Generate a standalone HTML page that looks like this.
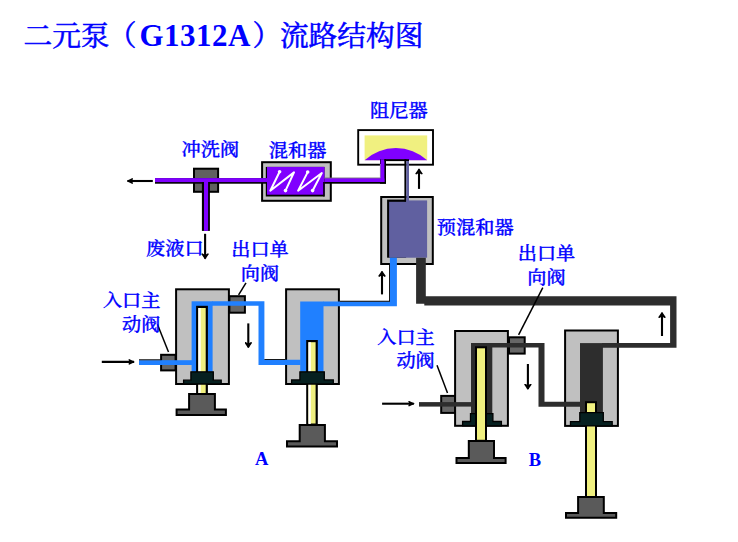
<!DOCTYPE html>
<html lang="zh">
<head>
<meta charset="utf-8">
<title>二元泵（G1312A）流路结构图</title>
<style>
html,body{margin:0;padding:0;background:#fff;}
body{width:738px;height:542px;overflow:hidden;position:relative;}
svg{position:absolute;left:0;top:0;display:block;}
.t{font-family:"Liberation Serif","Noto Serif CJK SC",serif;fill:#0000ff;}
.title{font-size:28.7px;font-weight:400;}
.title .lat{font-weight:700;font-size:31px;letter-spacing:0.45px;}
.lb{font-size:19.2px;font-weight:500;stroke:#0000ff;stroke-width:0.35px;}
.title .cj{stroke:#0000ff;stroke-width:0.55px;}
.ab{font-size:18.5px;font-weight:700;}
</style>
</head>
<body>
<svg width="738" height="542" viewBox="0 0 738 542">
<defs>
<marker id="ah" viewBox="0 0 6.4 7.6" refX="5.4" refY="3.8" markerWidth="6.4" markerHeight="7.6" markerUnits="userSpaceOnUse" orient="auto">
<path d="M6.4,3.8 L0.9,0 L0,0.9 L1.7,3.8 L0,6.7 L0.9,7.6 Z" fill="#000"/>
</marker>
<marker id="ahh" viewBox="0 0 6.6 5.8" refX="5.6" refY="2.9" markerWidth="6.6" markerHeight="5.8" markerUnits="userSpaceOnUse" orient="auto">
<path d="M6.6,2.9 L0.7,0 L0,0.8 L1.3,2.9 L0,5 L0.7,5.8 Z" fill="#000"/>
</marker>
</defs>

<!-- ================= TOP: purge valve, mixer, damper ================= -->
<g id="top">
<!-- purge valve -->
<rect x="194" y="168.7" width="24.1" height="23.1" fill="#606060" stroke="#000" stroke-width="2"/>
<!-- mixer -->
<rect x="262.1" y="162.2" width="68.7" height="38.6" fill="#c0c0c0" stroke="#000" stroke-width="2"/>
<rect x="265.8" y="166.9" width="58.7" height="29.6" fill="#000"/>
<rect x="267" y="166.9" width="57.5" height="27.8" fill="#8000ff"/>
<rect x="323.2" y="182" width="1.5" height="14.5" fill="#000"/>
<g fill="none" stroke="#fff" stroke-width="2" stroke-linecap="round" stroke-linejoin="round">
<path d="M279.5,172 L270.3,190.7 L294,172.4 L285.5,190.7"/>
<path d="M307.6,172.4 L298.1,190.7 L321.8,173 L312.6,190.7"/>
</g>
<g fill="#fff">
<circle cx="279.6" cy="171.8" r="1.8"/><circle cx="285.5" cy="190.6" r="1.8"/>
<circle cx="307.7" cy="172" r="1.8"/><circle cx="312.6" cy="190.6" r="1.8"/>
</g>
<!-- main purple line w/ black shadow -->
<rect x="155" y="178.1" width="112" height="5.6" fill="#000"/>
<rect x="155" y="178.1" width="112" height="4" fill="#8000ff"/>
<rect x="201.9" y="182.1" width="8" height="48.8" fill="#000"/>
<rect x="204" y="180" width="4.1" height="50.9" fill="#8000ff"/>
<!-- damper -->
<rect x="358.2" y="130.1" width="74.8" height="34.6" fill="#fff" stroke="#000" stroke-width="1.9"/>
<rect x="364.6" y="135.4" width="62.6" height="24.8" fill="#f0f080"/>
<path d="M364.6,160.2 A46.25,46.25 0 0 1 427.2,160.2 Z" fill="#8000ff"/>
<!-- line mixer -> damper -->
<rect x="324.5" y="177.8" width="61.5" height="5.9" fill="#000"/>
<rect x="380" y="159.3" width="6" height="24.4" fill="#000"/>
<rect x="324.5" y="177.7" width="56" height="1" fill="#a8a0b0"/>
<rect x="379.9" y="164" width="1" height="14.5" fill="#a8a0b0"/>
<rect x="324.5" y="178.4" width="59.9" height="3.6" fill="#8000ff"/>
<rect x="380.6" y="159.3" width="3.8" height="22.7" fill="#8000ff"/>
<rect x="384.4" y="159.2" width="24.6" height="1.9" fill="#000"/>
<!-- damper -> premixer -->
<rect x="404.4" y="159.2" width="2" height="42" fill="#000"/>
<rect x="406.3" y="161" width="2.7" height="40" fill="#6060a0"/>
</g>

<!-- ================= premixer ================= -->
<g id="premix">
<rect x="381.2" y="197" width="51.6" height="67" fill="#c0c0c0" stroke="#000" stroke-width="2"/>
<rect x="387.1" y="199.6" width="19" height="58.1" fill="#000"/>
<rect x="389.1" y="201.8" width="38" height="55.9" fill="#6060a0"/>
<rect x="406.3" y="200.4" width="20.8" height="2" fill="#6060a0"/>
<rect x="404.4" y="196" width="2" height="5.4" fill="#000"/>
<rect x="406.3" y="196" width="2.7" height="6" fill="#6060a0"/>
</g>

<!-- ================= tubes ================= -->
<g id="tubes">
<!-- pump housings -->
<rect x="176.1" y="289.3" width="52.8" height="94.7" fill="#c0c0c0" stroke="#000" stroke-width="2"/>
<rect x="286.1" y="289.3" width="52.8" height="94.7" fill="#c0c0c0" stroke="#000" stroke-width="2"/>
<rect x="455.1" y="331" width="52.8" height="94.8" fill="#c0c0c0" stroke="#000" stroke-width="2"/>
<rect x="565.1" y="330.5" width="52.8" height="95.4" fill="#c0c0c0" stroke="#000" stroke-width="2"/>
<!-- valves (behind tubes) -->
<rect x="161.1" y="354.8" width="14.5" height="15.6" fill="#666" stroke="#000" stroke-width="2"/>
<rect x="229.4" y="296.2" width="15.5" height="16.5" fill="#666" stroke="#000" stroke-width="2"/>
<rect x="441.2" y="395.9" width="13.8" height="17" fill="#666" stroke="#000" stroke-width="2"/>
<rect x="509" y="337.3" width="15.7" height="16.3" fill="#666" stroke="#000" stroke-width="2"/>
</g>

<!-- ================= Pump A1 ================= -->
<g id="A1">
<rect x="191.6" y="301.3" width="21" height="70.5" fill="#2080ff"/>
<rect x="139" y="360.2" width="54" height="4.8" fill="#2080ff"/>
<rect x="139" y="359.3" width="21.3" height="1" fill="#000"/>
<path d="M212,301.3 H264.4 V359.8 H300.5 V364.9 H258.5 V305.8 H212 Z" fill="#2080ff"/>
<rect x="264.4" y="359" width="20.8" height="0.9" fill="#000"/>
<rect x="197.2" y="306.9" width="9.6" height="87.5" fill="#f0f080" stroke="#000" stroke-width="2.2"/>
<rect x="198.3" y="308" width="2.4" height="86" fill="#fff"/>
<path d="M190.9,371.8 H213.3 V380.2 H221.2 V384 H183.6 V380.2 H190.9 Z" fill="#062020" stroke="#000" stroke-width="1.3"/>
<path d="M189.1,394.1 H214.9 V409.6 H225.9 V415 H176.6 V409.6 H189.1 Z" fill="#5a5a5a" stroke="#000" stroke-width="2"/>
</g>

<!-- ================= Pump A2 ================= -->
<g id="A2">
<rect x="300.2" y="301.5" width="23.3" height="70.3" fill="#2080ff"/>
<path d="M323,301.6 H389.9 V257.7 H396.9 V306.3 H323 Z" fill="#2080ff"/>
<path d="M339.9,300.8 H389.1 V264.5 H390 V301.7 H339.9 Z" fill="#000"/>
<rect x="307.3" y="341.1" width="9.4" height="83.5" fill="#f0f080" stroke="#000" stroke-width="2.2"/>
<rect x="308.4" y="342.2" width="2.4" height="82" fill="#fff"/>
<path d="M299.9,371.8 H324.3 V379.9 H333.3 V384 H291.6 V379.9 H299.9 Z" fill="#062020" stroke="#000" stroke-width="1.3"/>
<path d="M299.7,425 H324.9 V441.3 H337 V446.4 H287 V441.3 H299.7 Z" fill="#5a5a5a" stroke="#000" stroke-width="2"/>
</g>

<!-- ================= Pump B1 ================= -->
<g id="B1">
<rect x="471" y="343" width="21.3" height="70.5" fill="#2d2d2d"/>
<rect x="419" y="402.1" width="53" height="4.5" fill="#2d2d2d"/>
<path d="M492,342.9 H544.5 V401.8 H581 V406.7 H538.5 V347.5 H492 Z" fill="#2d2d2d"/>
<path d="M470.5,413.6 H492.9 V421.5 H501.4 V425.8 H462.6 V421.5 H470.5 Z" fill="#062020" stroke="#000" stroke-width="1.3"/>
<rect x="476" y="347.3" width="10" height="93.5" fill="#f0f080" stroke="#000" stroke-width="2"/>
<path d="M468.8,441 H494 V457.9 H505.6 V463 H456.5 V457.9 H468.8 Z" fill="#5a5a5a" stroke="#000" stroke-width="2"/>
</g>

<!-- ================= Pump B2 ================= -->
<g id="B2">
<rect x="580" y="343.1" width="22.9" height="70" fill="#2d2d2d"/>
<path d="M416.1,257.7 H425.8 V296.2 H676.5 V347.7 H602 V343 H670.1 V305.6 H424.3 V303.8 H416.1 Z" fill="#2d2d2d"/>
<rect x="586" y="402.2" width="10" height="95" fill="#f0f080" stroke="#000" stroke-width="2"/>
<path d="M579.8,412.6 H603.3 V421.6 H612.2 V425.9 H570.5 V421.6 H579.8 Z" fill="#062020" stroke="#000" stroke-width="1.3"/>
<path d="M578.1,496.9 H603.8 V513.1 H616.2 V517.7 H566 V513.1 H578.1 Z" fill="#5a5a5a" stroke="#000" stroke-width="2"/>
</g>

<!-- ================= arrows & leaders ================= -->
<g id="arrows" stroke="#000" stroke-width="2.1" fill="none">
<line x1="152.8" y1="181" x2="127.5" y2="181" marker-end="url(#ahh)"/>
<line x1="205.1" y1="233.8" x2="205.1" y2="258.6" marker-end="url(#ah)"/>
<line x1="419" y1="188.9" x2="419" y2="169.2" marker-end="url(#ah)"/>
<line x1="382" y1="294.4" x2="382" y2="271.6" marker-end="url(#ah)"/>
<line x1="248.3" y1="323.4" x2="248.3" y2="347.3" marker-end="url(#ah)"/>
<line x1="101.8" y1="361.9" x2="134" y2="361.9" marker-end="url(#ahh)"/>
<line x1="382.1" y1="403.7" x2="413.8" y2="403.7" marker-end="url(#ahh)"/>
<line x1="527.9" y1="364" x2="527.9" y2="389" marker-end="url(#ah)"/>
<line x1="662" y1="336" x2="662" y2="312.8" marker-end="url(#ah)"/>
<line x1="157.4" y1="324.3" x2="168.5" y2="352" stroke-width="1.5"/>
<line x1="246" y1="282.8" x2="238.6" y2="294.8" stroke-width="1.5"/>
<line x1="437" y1="365.2" x2="447.5" y2="392.9" stroke-width="1.5"/>
<line x1="542.8" y1="287.6" x2="518.6" y2="334.8" stroke-width="1.5"/>
</g>

<!-- ================= text ================= -->
<g id="text">
<text class="t title" x="23.5" y="46.2"><tspan class="cj">二元泵</tspan><tspan class="cj" dx="-1.8">（</tspan><tspan class="lat" dx="3.1">G1312A</tspan><tspan class="cj" dx="1.8">）</tspan><tspan class="cj" dx="-1.3">流路结构图</tspan></text>
<text class="t lb" transform="translate(181.5,156.0) scale(1,0.94)">冲洗阀</text>
<text class="t lb" transform="translate(268.8,157.0) scale(1,0.94)">混和器</text>
<text class="t lb" transform="translate(370,117.0) scale(1,0.94)">阻尼器</text>
<text class="t lb" transform="translate(436.8,234.0) scale(1,0.94)">预混和器</text>
<text class="t lb" transform="translate(146,254.8) scale(1,0.94)">废液口</text>
<text class="t lb" transform="translate(260,256.0) scale(1,0.94)" text-anchor="middle">出口单</text>
<text class="t lb" transform="translate(260,279.8) scale(1,0.94)" text-anchor="middle">向阀</text>
<text class="t lb" transform="translate(546.5,260.1) scale(1,0.94)" text-anchor="middle">出口单</text>
<text class="t lb" transform="translate(546.5,284.0) scale(1,0.94)" text-anchor="middle">向阀</text>
<text class="t lb" transform="translate(160.5,307.0) scale(1,0.94)" text-anchor="end">入口主</text>
<text class="t lb" transform="translate(160.5,330.8) scale(1,0.94)" text-anchor="end">动阀</text>
<text class="t lb" transform="translate(434.8,344.3) scale(1,0.94)" text-anchor="end">入口主</text>
<text class="t lb" transform="translate(434.8,367.3) scale(1,0.94)" text-anchor="end">动阀</text>
<text class="t ab" x="254.9" y="465.1">A</text>
<text class="t ab" x="528.8" y="466">B</text>
</g>
</svg>
</body>
</html>
